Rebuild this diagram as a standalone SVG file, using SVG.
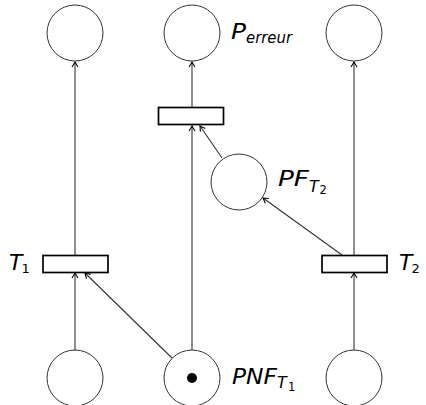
<svg xmlns="http://www.w3.org/2000/svg" width="426" height="405" viewBox="0 0 426 405">
<style>
.place{fill:#fff;stroke:#333;stroke-width:1}
.trans{fill:#fff;stroke:#000;stroke-width:1.7}
.arc{fill:none;stroke:#333;stroke-width:1.1;marker-end:url(#ah)}
.lbl{font-family:"DejaVu Sans",sans-serif;font-style:italic;fill:#000}
.num{font-family:"DejaVu Sans",sans-serif;font-style:normal;fill:#000}
</style>
<defs>
<marker id="ah" markerUnits="userSpaceOnUse" viewBox="-6 -4 8 8" refX="0" refY="0" markerWidth="8" markerHeight="8" orient="auto">
<path d="M-5,-3 Q-1.5,-0.8 0,0 Q-1.5,0.8 -5,3" fill="none" stroke="#000" stroke-width="1.1"/>
</marker>
</defs>
<g id="connectors">
<line class="arc" x1="75" y1="255" x2="75" y2="62"/>
<line class="arc" x1="192" y1="107" x2="192" y2="62"/>
<line class="arc" x1="354" y1="255" x2="354" y2="62"/>
<line class="arc" x1="192" y1="350" x2="192" y2="126"/>
<line class="arc" x1="222" y1="158" x2="200" y2="126"/>
<line class="arc" x1="342" y1="255" x2="263" y2="198"/>
<line class="arc" x1="75" y1="350" x2="75" y2="273"/>
<line class="arc" x1="172" y1="358" x2="85" y2="273"/>
<line class="arc" x1="354" y1="350" x2="354" y2="273"/>
</g>
<g id="p_top_left"><circle class="place" cx="75" cy="33" r="28"/></g>
<g id="p_erreur"><circle class="place" cx="192" cy="33" r="28"/>
<text class="lbl" x="231" y="39" font-size="22" textLength="15" lengthAdjust="spacingAndGlyphs">P</text><text class="lbl" x="246" y="43" font-size="15" textLength="46" lengthAdjust="spacingAndGlyphs">erreur</text></g>
<g id="p_top_right"><circle class="place" cx="354" cy="33" r="28"/></g>
<g id="t_middle"><rect class="trans" x="158.5" y="107.5" width="65" height="17"/></g>
<g id="pf_t2"><circle class="place" cx="239" cy="182" r="28"/>
<text class="lbl" x="278" y="186" font-size="21.5" textLength="31" lengthAdjust="spacingAndGlyphs">PF</text><text class="lbl" x="309" y="192" font-size="16">T</text><text class="num" x="319.5" y="194" font-size="11.5">2</text></g>
<g id="t1"><rect class="trans" x="43" y="255.5" width="65" height="17"/>
<text class="lbl" x="9" y="270" font-size="22">T</text><text class="num" x="21.5" y="273" font-size="13">1</text></g>
<g id="t2"><rect class="trans" x="322" y="255.5" width="65" height="17"/>
<text class="lbl" x="399" y="270" font-size="22">T</text><text class="num" x="411.5" y="273" font-size="13">2</text></g>
<g id="p_bottom_left"><circle class="place" cx="75" cy="378" r="28"/></g>
<g id="pnf_t1"><circle class="place" cx="192" cy="378" r="28"/><circle cx="192" cy="378" r="5" fill="#000"/>
<text class="lbl" x="232" y="384" font-size="21.5" textLength="45" lengthAdjust="spacingAndGlyphs">PNF</text><text class="lbl" x="277" y="388" font-size="16">T</text><text class="num" x="288" y="391" font-size="11.5">1</text></g>
<g id="p_bottom_right"><circle class="place" cx="354" cy="378" r="28"/></g>
</svg>
